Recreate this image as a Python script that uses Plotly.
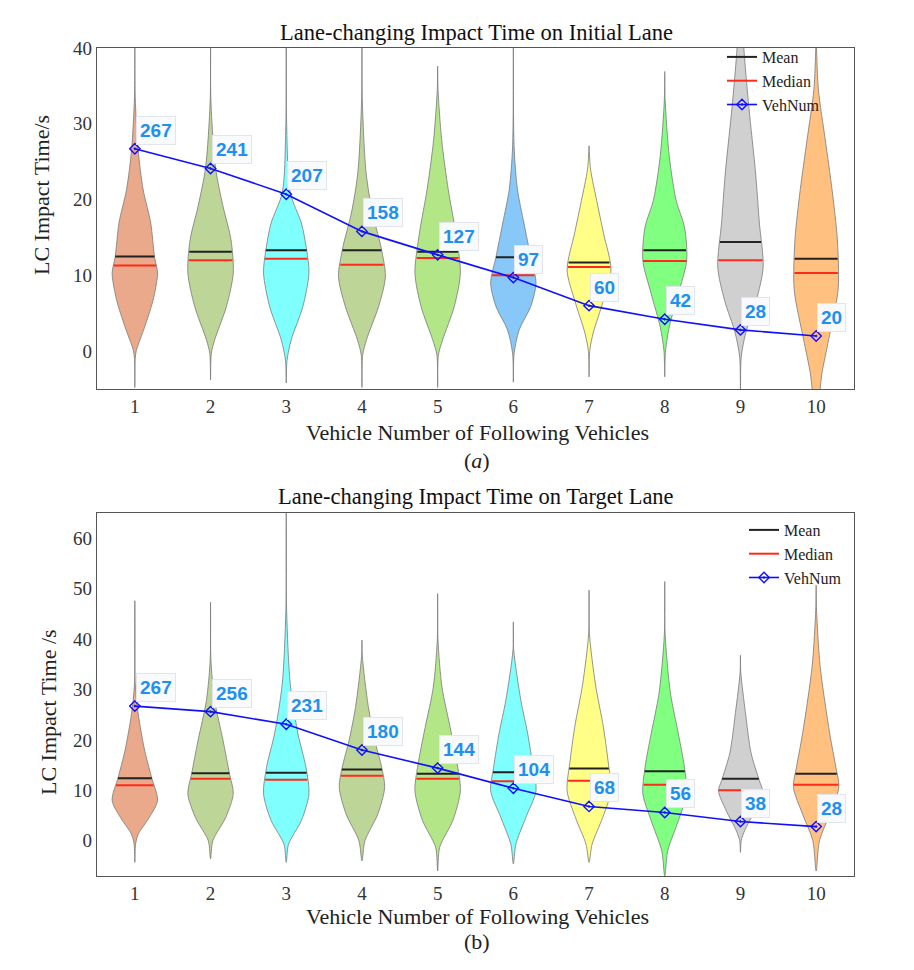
import numpy as np
import plotly.graph_objects as go

W, H = 914, 970

categories = [1, 2, 3, 4, 5, 6, 7, 8, 9, 10]

# ---- panel (a): initial lane ----
a_colors = ['#EAA98A', '#BDD597', '#80FFFF', '#BDD597', '#B3E687',
            '#88C8F8', '#FFFF88', '#80FF80', '#D0D0D0', '#FFC080']
a_prof_y = [
    [-4.8, -1.0, 0.1, 3.2, 6.7, 10.3, 12.4, 16.9, 21.3, 26.5, 33.5, 42],
    [-3.8, -0.3, 1.5, 5.9, 10.3, 14.7, 19.1, 24.2, 33.0, 42],
    [-4.2, -1.2, 1.5, 5.9, 10.3, 13.3, 16.9, 20.9, 30.1, 42],
    [-4.8, -0.5, 1.5, 5.9, 9.8, 13.8, 18.2, 23.5, 33.0, 42],
    [-4.8, -0.5, 1.5, 5.9, 10.3, 15.6, 21.3, 27.9, 34.5, 37.6],
    [-4.1, -0.3, 2.8, 5.9, 9.0, 12.4, 16.9, 21.3, 27.0, 42],
    [-3.4, 0.1, 2.4, 6.7, 10.7, 15.6, 19.9, 24.0, 27.1],
    [-3.4, 0.0, 3.2, 7.6, 12.0, 16.4, 19.9, 25.7, 33.2, 36.9],
    [-6.0, -0.8, 2.4, 6.7, 11.1, 16.9, 23.5, 32.3, 40.0, 42],
    [-7.0, -5.0, -2.9, 1.5, 8.1, 14.7, 21.3, 27.9, 34.5, 40.0, 42],
]
a_prof_hw = [
    [0, 0.005, 0.02, 0.13, 0.24, 0.30, 0.26, 0.21, 0.11, 0.044, 0.005, 0],
    [0, 0.01, 0.055, 0.21, 0.30, 0.27, 0.165, 0.066, 0.005, 0],
    [0, 0.01, 0.066, 0.22, 0.30, 0.27, 0.20, 0.053, 0.005, 0],
    [0, 0.01, 0.06, 0.22, 0.31, 0.25, 0.14, 0.055, 0.005, 0],
    [0, 0.01, 0.066, 0.22, 0.30, 0.24, 0.14, 0.053, 0.005, 0],
    [0, 0.01, 0.077, 0.23, 0.30, 0.23, 0.14, 0.055, 0.01, 0],
    [0, 0.01, 0.055, 0.19, 0.29, 0.19, 0.10, 0.02, 0],
    [0, 0.01, 0.06, 0.18, 0.29, 0.26, 0.15, 0.06, 0.005, 0],
    [0, 0.01, 0.07, 0.21, 0.30, 0.25, 0.20, 0.11, 0.045, 0.04],
    [0.03, 0.053, 0.077, 0.165, 0.29, 0.28, 0.21, 0.12, 0.03, 0.005, 0],
]
a_mean = [12.5, 13.1, 13.3, 13.3, 13.1, 12.4, 11.7, 13.3, 14.4, 12.2]
a_median = [11.3, 12.0, 12.2, 11.4, 12.3, 10.0, 11.1, 11.9, 12.0, 10.3]
a_vehnum = [267, 241, 207, 158, 127, 97, 60, 42, 28, 20]

# ---- panel (b): target lane ----
b_colors = ['#EAA98A', '#BDD597', '#80FFFF', '#BDD597', '#B3E687',
            '#80FFFF', '#FFFF88', '#80FF80', '#D0D0D0', '#FFC080']
b_prof_y = [
    [-4.3, -0.6, 1.3, 4.6, 8.0, 12.6, 17.9, 25.2, 31.1, 47.6],
    [-3.6, 0.0, 4.6, 9.3, 13.3, 19.9, 27.8, 35.8, 47.3],
    [-4.3, -0.7, 4.0, 9.3, 14.6, 21.2, 31.1, 45.7, 66],
    [-4.0, 0.0, 5.3, 10.6, 14.6, 19.9, 26.6, 36.6, 39.8],
    [-6.0, -1.3, 4.0, 9.9, 15.9, 22.5, 30.5, 39.8, 49.0],
    [-4.6, -0.7, 4.6, 9.9, 14.6, 21.2, 27.8, 37.8, 43.4],
    [-4.3, -0.7, 4.6, 9.9, 15.9, 22.5, 31.1, 41.1, 49.7],
    [-7.0, -2.0, 4.0, 9.3, 14.6, 21.2, 29.3, 41.0, 51.4],
    [-2.3, 0.0, 2.0, 6.0, 9.9, 11.9, 17.4, 25.4, 33.3, 36.8],
    [-6.0, 0.0, 5.3, 10.6, 14.6, 21.2, 34.6, 45.9, 50.7],
]
b_prof_hw = [
    [0, 0.01, 0.044, 0.19, 0.30, 0.22, 0.13, 0.044, 0.005, 0],
    [0, 0.03, 0.20, 0.30, 0.25, 0.165, 0.055, 0.005, 0],
    [0, 0.03, 0.20, 0.30, 0.26, 0.155, 0.053, 0.005, 0],
    [0, 0.04, 0.21, 0.30, 0.26, 0.17, 0.084, 0.005, 0],
    [0, 0.027, 0.20, 0.30, 0.25, 0.165, 0.057, 0.005, 0],
    [0, 0.033, 0.165, 0.30, 0.26, 0.19, 0.10, 0.005, 0],
    [0, 0.04, 0.18, 0.29, 0.25, 0.19, 0.084, 0.005, 0],
    [0, 0.04, 0.18, 0.29, 0.26, 0.18, 0.075, 0.005, 0],
    [0, 0.01, 0.055, 0.19, 0.29, 0.25, 0.14, 0.066, 0.005, 0],
    [0, 0.044, 0.18, 0.30, 0.26, 0.18, 0.053, 0.005, 0],
]
b_mean = [12.4, 13.4, 13.5, 14.1, 13.3, 13.6, 14.3, 13.8, 12.3, 13.3]
b_median = [11.0, 12.3, 12.1, 12.9, 12.3, 11.8, 11.9, 11.1, 10.0, 11.1]
b_vehnum = [267, 256, 231, 180, 144, 104, 68, 56, 38, 28]

titles = ['Lane-changing Impact Time on Initial Lane',
          'Lane-changing Impact Time on Target Lane']
ylabels = ['LC Impact Time/s', 'LC Impact Time /s']
xlabel = 'Vehicle Number of Following Vehicles'
sublabels = ['(<i>a</i>)', '(b)']

SERIF = 'Liberation Serif, Times New Roman, serif'
LABEL_BLUE = '#1E90F0'

fig = go.Figure()


def add_panel(xa, ya, colors, prof_y, prof_hw, means, medians, vehnum, legend):
    for c, col, py, ph in zip(categories, colors, prof_y, prof_hw):
        py = np.array(py, float)
        ph = np.array(ph, float)
        xs = np.concatenate([c + ph, (c - ph)[::-1]])
        ys = np.concatenate([py, py[::-1]])
        fig.add_trace(go.Scatter(
            x=xs, y=ys, mode='lines', fill='toself', fillcolor=col,
            line=dict(color='#7a7a7a', width=0.8, shape='spline', smoothing=0.8),
            xaxis=xa, yaxis=ya, showlegend=False, hoverinfo='skip'))
    # mean / median segments
    for vals, color, name in [(means, '#222222', 'Mean'), (medians, '#FF2A1A', 'Median')]:
        xs, ys = [], []
        for c, v, py, ph in zip(categories, vals, prof_y, prof_hw):
            hw = float(np.interp(v, py, ph))
            xs += [c - hw, c + hw, None]
            ys += [v, v, None]
        fig.add_trace(go.Scatter(
            x=xs, y=ys, mode='lines', line=dict(color=color, width=2),
            name=name, xaxis=xa, yaxis=ya, legend=legend, hoverinfo='skip'))
    yv = [n / 10 for n in vehnum]
    fig.add_trace(go.Scatter(
        x=categories, y=yv, mode='lines+markers', name='VehNum',
        line=dict(color='#1010FF', width=1.6),
        marker=dict(symbol='diamond-open-dot', size=8, color='#1010FF',
                    line=dict(width=1.4, color='#1010FF')),
        xaxis=xa, yaxis=ya, legend=legend))
    for c, n, y in zip(categories, vehnum, yv):
        fig.add_annotation(
            x=c, y=y, xref=xa, yref=ya, text='<b>%d</b>' % n, showarrow=False,
            xanchor='left', yanchor='bottom', xshift=1, yshift=4,
            font=dict(family='Arial, Liberation Sans, sans-serif', size=19, color=LABEL_BLUE),
            bgcolor='rgba(248,250,253,0.97)', bordercolor='#E2E6EC', borderwidth=1,
            borderpad=3)


add_panel('x', 'y', a_colors, a_prof_y, a_prof_hw, a_mean, a_median, a_vehnum, 'legend')
add_panel('x2', 'y2', b_colors, b_prof_y, b_prof_hw, b_mean, b_median, b_vehnum, 'legend2')


def py(px):
    return 1 - px / H


def pxx(px):
    return px / W


xdom = [pxx(97), pxx(854)]
axis_common = dict(showline=True, mirror=True, linecolor='#555555', linewidth=1.3,
                   showgrid=False, zeroline=False, ticks='', automargin=False,
                   tickfont=dict(family=SERIF, size=19, color='#333333'))

fig.update_layout(
    width=W, height=H, margin=dict(l=0, r=0, t=0, b=0, autoexpand=False),
    paper_bgcolor='white', plot_bgcolor='white',
    xaxis=dict(domain=xdom, range=[0.5, 10.5], tickvals=categories, anchor='y',
               **axis_common),
    yaxis=dict(domain=[py(389), py(48)], range=[-5, 40], tickvals=[0, 10, 20, 30, 40],
               anchor='x', **axis_common),
    xaxis2=dict(domain=xdom, range=[0.5, 10.5], tickvals=categories, anchor='y2',
                **axis_common),
    yaxis2=dict(domain=[py(876), py(513)], range=[-7, 65],
                tickvals=[0, 10, 20, 30, 40, 50, 60], anchor='x2', **axis_common),
    legend=dict(x=pxx(722), y=py(40), xanchor='left', yanchor='top',
                bgcolor='rgba(255,255,255,0)', itemwidth=30, tracegroupgap=0,
                font=dict(family=SERIF, size=16, color='#222222')),
    legend2=dict(x=pxx(744), y=py(513), xanchor='left', yanchor='top',
                 bgcolor='rgba(255,255,255,0)', itemwidth=30, tracegroupgap=0,
                 font=dict(family=SERIF, size=16, color='#222222')),
    showlegend=True,
)

# titles, axis titles, sub labels
for t, ty in zip(titles, [33, 497]):
    fig.add_annotation(text=t, x=pxx(476), y=py(ty), xref='paper', yref='paper',
                       showarrow=False, xanchor='center', yanchor='middle',
                       font=dict(family=SERIF, size=22.5, color='#111111'))
for ty in [432, 916]:
    fig.add_annotation(text=xlabel, x=pxx(477), y=py(ty), xref='paper', yref='paper',
                       showarrow=False, xanchor='center', yanchor='middle',
                       font=dict(family=SERIF, size=22, color='#222222'))
for s, ty in zip(sublabels, [460, 941]):
    fig.add_annotation(text=s, x=pxx(477), y=py(ty), xref='paper', yref='paper',
                       showarrow=False, xanchor='center', yanchor='middle',
                       font=dict(family=SERIF, size=22, color='#222222'))
for s, tx, ty in zip(ylabels, [42, 48], [195, 712]):
    fig.add_annotation(text=s, x=pxx(tx), y=py(ty), xref='paper', yref='paper',
                       showarrow=False, xanchor='center', yanchor='middle', textangle=-90,
                       font=dict(family=SERIF, size=22, color='#222222'))

fig.write_html('out.html')
